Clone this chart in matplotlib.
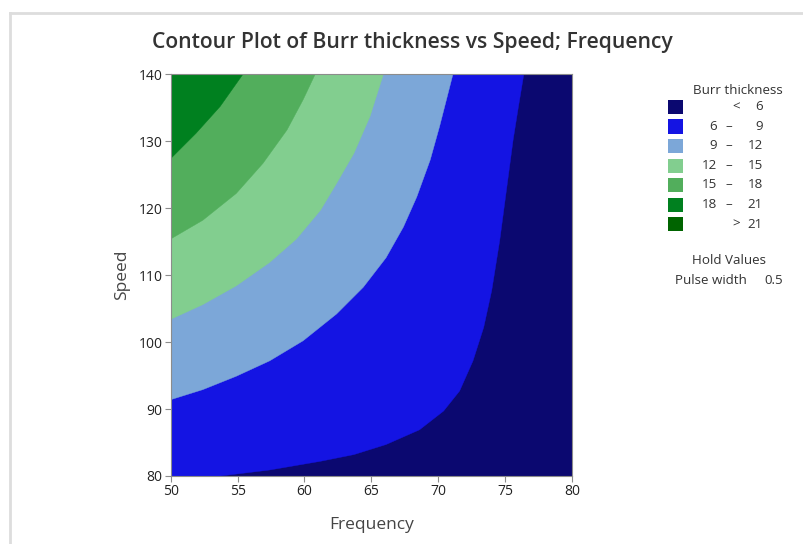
import matplotlib
matplotlib.use("Agg")
import matplotlib.pyplot as plt
from matplotlib.patches import Rectangle, Polygon
from matplotlib.lines import Line2D

plt.rcParams["font.family"] = ["Open Sans", "DejaVu Sans"]

# contour band colours, lowest to highest
band_colors = ["#0b0870", "#1414e3", "#7ca7d8", "#82ce8f", "#52ae5c", "#00801f", "#006400"]
band_lo = ["", "6", "9", "12", "15", "18", ""]
band_hi = ["6", "9", "12", "15", "18", "21", "21"]
band_sign = ["<", "\u2013", "\u2013", "\u2013", "\u2013", "\u2013", ">"]

# contour boundaries (Frequency, Speed)
b6_freq = [53.7, 57.4, 61.2, 63.7, 66.1, 68.6, 70.4, 71.6, 72.6, 73.4, 74.0, 74.6, 75.1, 75.6, 76.0, 76.4]
b6_speed = [80.0, 80.9, 82.2, 83.2, 84.7, 86.9, 89.7, 92.7, 97.2, 102.2, 107.7, 115.2, 122.7, 130.2, 135.2, 140.0]
b9_freq = [50.0, 52.4, 54.9, 57.4, 59.9, 62.4, 64.4, 66.1, 67.4, 68.4, 69.4, 70.1, 71.1]
b9_speed = [91.4, 92.9, 94.9, 97.2, 100.2, 104.2, 108.2, 112.6, 117.2, 121.7, 127.2, 132.2, 140.0]
b12_freq = [50.0, 52.4, 54.9, 57.4, 59.4, 61.2, 62.4, 63.7, 64.9, 65.9]
b12_speed = [103.4, 105.6, 108.4, 111.9, 115.4, 119.7, 123.7, 128.2, 133.7, 140.0]
b15_freq = [50.0, 52.4, 54.9, 56.9, 58.7, 59.9, 60.8]
b15_speed = [115.4, 118.2, 122.2, 126.7, 131.7, 136.2, 140.0]
b18_freq = [50.0, 51.9, 53.7, 55.4]
b18_speed = [127.4, 131.2, 135.2, 140.0]

boundaries = [(b6_freq, b6_speed), (b9_freq, b9_speed), (b12_freq, b12_speed),
              (b15_freq, b15_speed), (b18_freq, b18_speed)]

freq_ticks = [50, 55, 60, 65, 70, 75, 80]
speed_ticks = [80, 90, 100, 110, 120, 130, 140]

fig = plt.figure(figsize=(8.04, 5.44), dpi=100)
ax = fig.add_axes([0.2123, 0.125, 0.4991, 0.7384])
ax.set_xlim(50, 80)
ax.set_ylim(80, 140)

# lowest band fills the whole area, each higher band painted over the top-left
ax.add_patch(Rectangle((50, 80), 30, 60, facecolor=band_colors[0], edgecolor="none"))
for i, (fx, sy) in enumerate(boundaries):
    pts = list(zip(fx, sy)) + [(50, 140)]
    if sy[0] <= 80:
        pts.append((50, 80))
    ax.add_patch(Polygon(pts, closed=True, facecolor=band_colors[i + 1],
                         edgecolor=band_colors[i + 1], linewidth=0.3, joinstyle="round"))

ax.set_xticks(freq_ticks)
ax.set_yticks(speed_ticks)
for s in ax.spines.values():
    s.set_color("#8c8c8c")
ax.tick_params(colors="#8c8c8c", labelcolor="#222222", labelsize=10, length=4, pad=2)
ax.set_xlabel("Frequency", fontsize=12.5, color="#444444", labelpad=13)
ax.set_ylabel("Speed", fontsize=12.5, color="#444444", labelpad=6)
fig.text(0.513, 0.922, "Contour Plot of Burr thickness vs Speed; Frequency",
         ha="center", va="center", fontsize=15.2, fontweight="semibold", color="#333333")

# legend
W, H = 804, 544
fs = 9.6
fig.text(738 / W, 1 - 90.5 / H, "Burr thickness", ha="center", va="center",
         fontsize=fs, color="#333333")
for i, c in enumerate(band_colors):
    yc = 107 + 19.5 * i
    fig.add_artist(Rectangle((668 / W, 1 - (yc + 7) / H), 15 / W, 14 / H,
                             facecolor=c, edgecolor="none", transform=fig.transFigure))
    fig.text(717 / W, 1 - yc / H, band_lo[i], ha="right", va="center", fontsize=fs, color="#333333")
    fig.text(729 / W if band_sign[i] == "\u2013" else 736 / W, 1 - yc / H, band_sign[i],
             ha="center", va="center", fontsize=fs, color="#333333")
    fig.text(763 / W, 1 - yc / H, band_hi[i], ha="right", va="center", fontsize=fs, color="#333333")
fig.text(729 / W, 1 - 260.5 / H, "Hold Values", ha="center", va="center", fontsize=fs, color="#333333")
fig.text(675 / W, 1 - 280 / H, "Pulse width", ha="left", va="center", fontsize=fs, color="#333333")
fig.text(783 / W, 1 - 280 / H, "0.5", ha="right", va="center", fontsize=fs, color="#333333")

# light frame at the top and left of the picture
fig.add_artist(Line2D([10.5 / W, 10.5 / W], [0, 1 - 12.5 / H], color="#dddddd", linewidth=2,
                      transform=fig.transFigure))
fig.add_artist(Line2D([10.5 / W, 1], [1 - 12.5 / H, 1 - 12.5 / H], color="#dddddd", linewidth=2,
                      transform=fig.transFigure))

fig.savefig("out.png", dpi=100)
